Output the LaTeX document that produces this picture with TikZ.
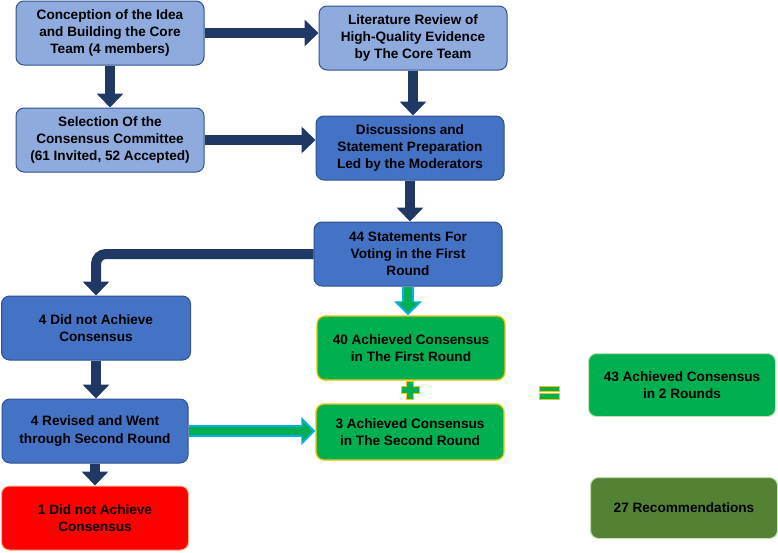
\documentclass[tikz,border=0pt]{standalone}
\usepackage{fontspec}
\setmainfont{Liberation Sans}
\usepackage{xcolor}
\usepackage{tikz}
\usetikzlibrary{positioning}
\usetikzlibrary{arrows.meta}

\definecolor{paleblue}{HTML}{8FAADC}
\definecolor{midblue}{HTML}{4472C4}
\definecolor{boxline}{HTML}{2F528F}
\definecolor{navy}{HTML}{203864}
\definecolor{okgreen}{HTML}{00B050}
\definecolor{gold}{HTML}{FFC000}
\definecolor{skyline}{HTML}{00B0F0}
\definecolor{failred}{HTML}{FF0000}
\definecolor{failline}{HTML}{F4B183}
\definecolor{olive}{HTML}{548235}
\definecolor{paleline}{HTML}{C5E0B4}

\tikzstyle{box}=[rounded corners=8pt, draw=boxline, line width=1pt, align=center,
	minimum width=188pt, minimum height=64pt, inner sep=2pt]
\tikzstyle{navyarrow}=[line width=10pt, draw=navy, -{Triangle[width=26pt,length=14pt]}]
\tikzstyle{skyarrow}=[line width=12pt, draw=skyline, -{Triangle[width=27pt,length=14pt]}]
\tikzstyle{greenarrow}=[line width=8pt, draw=okgreen, -{Triangle[width=20pt,length=10pt]}, shorten >=3pt]
\tikzstyle{sign}=[draw=gold, fill=okgreen, line width=0.9pt]

\begin{document}
\begin{tikzpicture}[x=1pt, y=-1pt]
\fontsize{13.6pt}{17.3pt}\selectfont\bfseries
\useasboundingbox (0,0) rectangle (778,552);

% preparation
\node (idea) [box, fill=paleblue] at (110,33)
	{Conception of the Idea\\and Building the Core\\Team (4 members)};
\node (review) [box, fill=paleblue] at (413,38)
	{Literature Review of\\High-Quality Evidence\\by The Core Team};
\node (committee) [box, fill=paleblue] at (110,140)
	{Selection Of the\\Consensus Committee\\(61 Invited, 52 Accepted)};
\node (discuss) [box, fill=midblue] at (410,148)
	{Discussions and\\Statement Preparation\\Led by the Moderators};
\node (statements) [box, fill=midblue] at (408,254)
	{44 Statements For\\Voting in the First\\Round};

% voting results
\node (first) [box, fill=okgreen, draw=gold, line width=1.3pt] at (411,348)
	{40 Achieved Consensus\\in The First Round};
\node (second) [box, fill=okgreen, draw=gold, line width=1.3pt, minimum height=56pt] at (410,432)
	{3 Achieved Consensus\\in The Second Round};
\node (total) [box, fill=okgreen, draw=paleline, minimum width=187pt, minimum height=63pt] at (682,385)
	{43 Achieved Consensus\\in 2 Rounds};
\node (recs) [box, fill=olive, draw=paleline, minimum width=187pt, minimum height=61pt] at (684,508)
	{27 Recommendations};

\node (failed) [box, fill=midblue, minimum width=189pt] at (96,328)
	{4 Did not Achieve\\Consensus};
\node (revised) [box, fill=midblue, minimum width=186pt] at (95,431)
	{4 Revised and Went\\through Second Round};
\node (rejected) [box, fill=failred, draw=failline, minimum width=187pt] at (95,518)
	{1 Did not Achieve\\Consensus};

% arrows
\draw [navyarrow] (idea.east) -- (idea.east -| review.west);
\draw [navyarrow] (idea.south) -- (idea.south |- committee.north);
\draw [navyarrow] (committee.east) -- (committee.east -| discuss.west);
\draw [navyarrow] (review.south) -- (review.south |- discuss.north);
\draw [navyarrow] (discuss.south) -- (discuss.south |- statements.north);
\draw [navyarrow, rounded corners=10pt] (statements.west) -| (failed.north);
\draw [navyarrow] (failed.south) -- (failed.south |- revised.north);
\draw [navyarrow] (revised.south) -- (revised.south |- rejected.north);

\draw [skyarrow] (statements.south) -- (statements.south |- first.north);
\draw [greenarrow] (statements.south) -- (statements.south |- first.north);
\draw [skyarrow] (revised.east) -- (revised.east -| second.west);
\draw [greenarrow] (revised.east) -- (revised.east -| second.west);

% plus and equals
\draw [sign]
	(406.5,381) -- (413.5,381) -- (413.5,386.5) -- (419,386.5) -- (419,393.5) -- (413.5,393.5)
	-- (413.5,399) -- (406.5,399) -- (406.5,393.5) -- (401,393.5) -- (401,386.5) -- (406.5,386.5) -- cycle;
\draw [sign] (539,386) rectangle (559,391.5);
\draw [sign] (539,393.5) rectangle (559,399);
\end{tikzpicture}
\end{document}
